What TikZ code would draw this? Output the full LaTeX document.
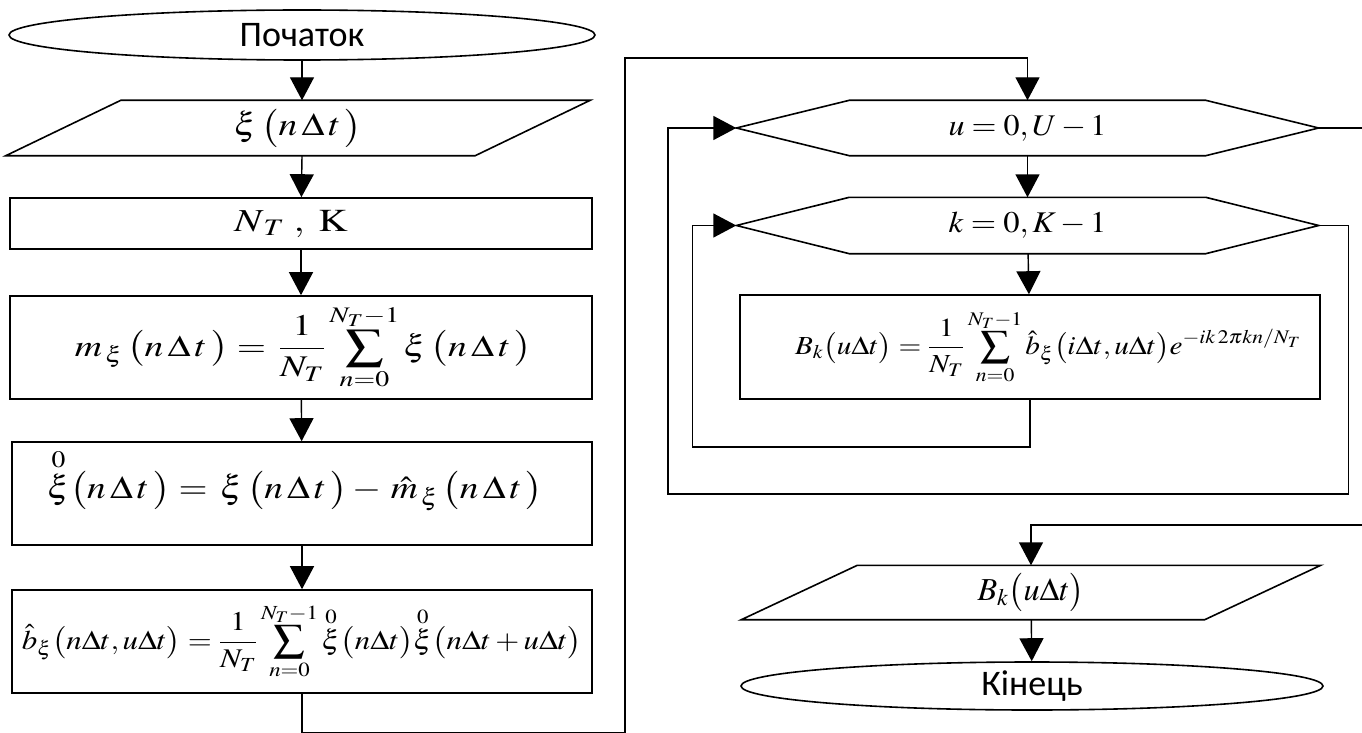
\documentclass[tikz,border=0pt]{standalone}
\usepackage{amsmath}
\usepackage{graphicx}
\usepackage[no-math]{fontspec}
\usepackage{mathptmx}
\newfontfamily\carlitofont{Carlito}
\newcommand{\fitw}[2]{\resizebox{#1}{\height}{#2}}
\usetikzlibrary{arrows.meta,shapes.geometric,calc}
\begin{document}
\begin{tikzpicture}[x=1pt,y=-1pt,line width=1.4pt,
  arr/.style={-{Triangle[length=23pt,width=24pt]}},
  term/.style={draw,ellipse,inner sep=0pt,line width=1.6pt,font=\carlitofont\fontsize{36}{42}\selectfont},
  procbox/.style={draw,rectangle,inner sep=0pt,line width=1.6pt},
  frame/.style={rectangle,inner sep=0pt},
  outline/.style={draw,line width=1.6pt,line join=miter}]
\useasboundingbox (0,0) rectangle (1362,733);
% left column
\node[term,minimum width=586pt,minimum height=50pt] (start) at (302,35) {Початок};
\node[frame,minimum width=583pt,minimum height=54pt,font=\fontsize{32}{36}\selectfont] (in1) at (298,128)
  {\fitw{128pt}{$\xi\,\bigl(n\,\Delta\,t\,\bigr)$}};
\draw[outline] ($(in1.north west)+(115,0)$) -- (in1.north east) -- ($(in1.south east)+(-115,0)$) -- (in1.south west) -- cycle;
\node[procbox,minimum width=582pt,minimum height=51pt,font=\fontsize{32}{36}\selectfont] (par) at (301,223.5)
  {\hspace*{-20pt}\fitw{113pt}{$N_{\,T}\;,\;\mathrm{K}$}};
\node[procbox,minimum width=582pt,minimum height=103pt,font=\fontsize{30}{34}\selectfont] (mean) at (301,347.5)
  {\hspace*{5pt}\fitw{457pt}{$\displaystyle m_{\,\xi}\,\bigl(n\,\Delta\,t\,\bigr)=\,\frac{1}{N_{T}}\sum_{n=0}^{N_{T}-1}\xi\,\bigl(n\,\Delta\,t\,\bigr)$}};
\node[procbox,minimum width=580pt,minimum height=103pt,font=\fontsize{32}{38}\selectfont] (cent) at (302,493.5)
  {\hspace*{-14pt}\raisebox{-5pt}[0pt][0pt]{\fitw{496pt}{$\overset{0}{\xi}\bigl(n\,\Delta\,t\,\bigr)=\,\xi\,\bigl(n\,\Delta\,t\,\bigr)-\,\hat m_{\,\xi}\,\bigl(n\,\Delta\,t\,\bigr)$}}};
\node[procbox,minimum width=580pt,minimum height=103pt,font=\fontsize{27}{32}\selectfont] (bcov) at (302,641.5)
  {\fitw{560pt}{$\displaystyle \hat b_{\xi}\bigl(n\Delta t,u\Delta t\bigr)=\frac{1}{N_{T}}\sum_{n=0}^{N_{T}-1}\overset{0}{\xi}\bigl(n\Delta t\bigr)\overset{0}{\xi}\bigl(n\Delta t+u\Delta t\bigr)$}};
\draw[arr] (start) -- (in1.north -| start.south);
\draw[arr] (in1.south -| start.south) -- (par);
\draw[arr] (par) -- (mean);
\draw[arr] (mean) -- (cent);
\draw[arr] (cent) -- (bcov);
% right column
\node[frame,minimum width=581pt,minimum height=54pt,font=\fontsize{30}{36}\selectfont] (uh) at (1027.5,128)
  {\fitw{158pt}{$u=0,U-1$}};
\draw[outline] (uh.west) -- ($(uh.north west)+(113,0)$) -- ($(uh.north east)+(-113,0)$) -- (uh.east) -- ($(uh.south east)+(-113,0)$) -- ($(uh.south west)+(113,0)$) -- cycle;
\node[frame,minimum width=581pt,minimum height=55pt,font=\fontsize{30}{36}\selectfont] (kh) at (1027.5,225.5)
  {\fitw{158pt}{$k=0,K-1$}};
\draw[outline] (kh.west) -- ($(kh.north west)+(113,0)$) -- ($(kh.north east)+(-113,0)$) -- (kh.east) -- ($(kh.south east)+(-113,0)$) -- ($(kh.south west)+(113,0)$) -- cycle;
\node[procbox,minimum width=580pt,minimum height=104pt,font=\fontsize{26}{31}\selectfont] (B) at (1030,347)
  {\hspace*{36pt}\fitw{506pt}{$\displaystyle B_{k}\bigl(u\Delta t\bigr)=\frac{1}{N_{T}}\sum_{n=0}^{N_{T}-1}\hat b_{\xi}\bigl(i\Delta t,u\Delta t\bigr)e^{-ik\,2\pi kn/N_{T}}$}};
\node[frame,minimum width=578pt,minimum height=53pt,font=\fontsize{32}{37}\selectfont] (out) at (1031,592.5)
  {\fitw{107pt}{$B_{k}\bigl(u\Delta t\bigr)$}};
\draw[outline] ($(out.north west)+(116,0)$) -- (out.north east) -- ($(out.south east)+(-116,0)$) -- (out.south west) -- cycle;
\node[term,minimum width=582pt,minimum height=48pt] (end) at (1032,686) {Кінець};
% connectors
\coordinate (c3) at (625,58);
\draw[arr] (bcov.south) -- ++(0,39) -| (c3) -| (uh.north);
\draw[arr] (uh) -- (kh);
\draw[arr] (kh) -- (B);
\draw[arr] (B.south) -- ++(0,47) -| ($(kh.west)+(-44,0)$) -- (kh.west);
\coordinate (lb) at (668,494);
\draw[arr] (kh.east) -- ++(30,0) |- (lb) |- (uh.west);
\coordinate (uo) at (1362,128);
\draw (uh.east) -- (uo);
\coordinate (ui) at (1362,525);
\draw[arr] (ui) -| (out.north);
\draw[arr] (out) -- (end);
\end{tikzpicture}
\end{document}
